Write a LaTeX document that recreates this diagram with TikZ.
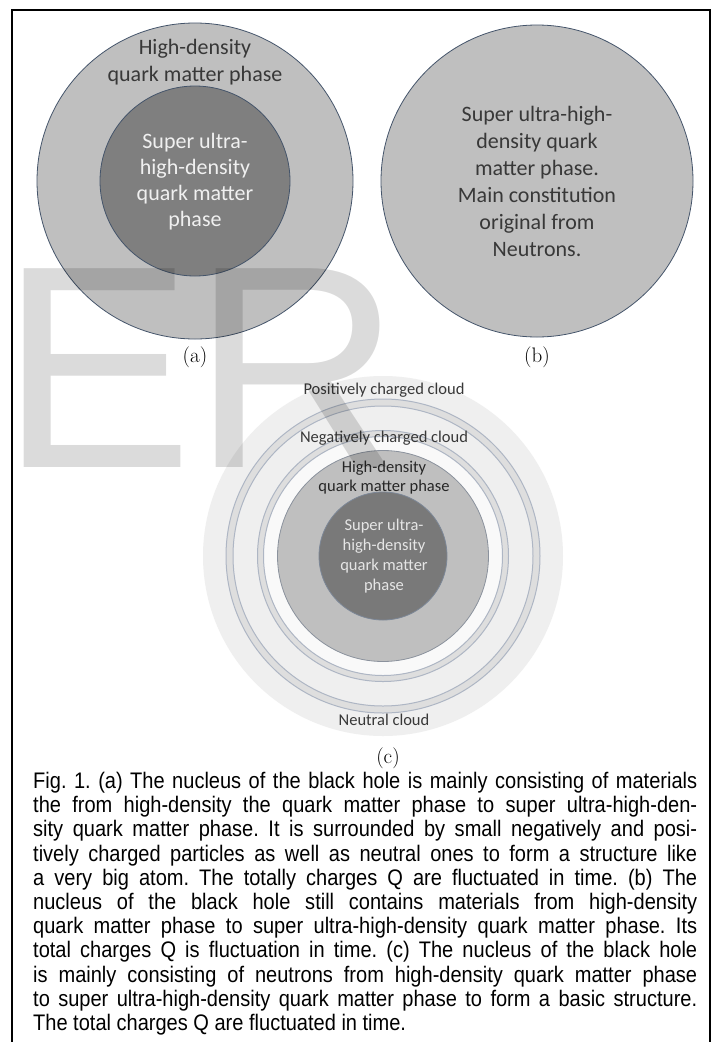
\documentclass[tikz,border=0pt]{standalone}
\usepackage{fontspec}
\newfontfamily\labelfont{Carlito}
\newfontfamily\capfont[FakeStretch=0.89]{Liberation Sans}
\newfontfamily\wmfont{Liberation Sans}

\definecolor{rimblue}{HTML}{44546A}
\definecolor{phasegray}{HTML}{BFBFBF}
\definecolor{coregray}{HTML}{7F7F7F}
\definecolor{cloudgray}{HTML}{EFEFEF}
\definecolor{ringgray}{HTML}{DEDEDE}
\definecolor{ringline}{HTML}{AEB6C4}
\definecolor{inktext}{HTML}{383838}

\tikzset{
  phase/.style={draw=rimblue, line width=0.8pt, fill=phasegray},
  core/.style={draw=rimblue, line width=0.8pt, fill=coregray},
  ring/.style={draw=ringline, line width=1pt},
  darklabel/.style={font=\labelfont\fontsize{22}{27}\selectfont, text=inktext, align=center, inner sep=0pt},
  lightlabel/.style={font=\labelfont\fontsize{22}{26}\selectfont, text=white!94!black, align=center, inner sep=0pt},
  cloudlabel/.style={font=\labelfont\fontsize{16.5}{20}\selectfont, text=inktext, align=center, inner sep=0pt},
  tag/.style={font=\fontsize{21}{24}\selectfont, inner sep=0pt}
}

\begin{document}
\begin{tikzpicture}[x=1pt,y=-1pt]
%%%%% START %%%%%
\fill[white] (0,0) rectangle (718,1042);
\useasboundingbox (0,0) rectangle (718,1042);

\draw[line width=1.6pt] (12,1042) |- (710,10) -- (710,1042);

% (a)
\draw[phase] (195,181) circle[radius=158pt];
\draw[core] (195,181) circle[radius=95pt];
\node[darklabel] (highA) at (195,62) {High-density\\quark matter phase};
\node[lightlabel] (superA) at (195,182) {Super ultra-\\high-density\\quark matter\\phase};
\node[tag] (tagA) at (195,357) {(a)};

% (b)
\draw[phase] (537,181) circle[radius=156pt];
\node[darklabel] (superB) at (537,181)
  {Super ultra-high-\\density quark\\matter phase.\\Main constitution\\original from\\Neutrons.};
\node[tag] (tagB) at (537,357) {(b)};

% (c)
\coordinate (cc) at (383,556);
\fill[cloudgray] (cc) circle[radius=180pt];
\draw[ring, fill=ringgray, even odd rule] (cc) circle[radius=157pt] circle[radius=150pt];
\fill[white!60!cloudgray] (cc) circle[radius=119.5pt];
\draw[ring, fill=ringgray, even odd rule] (cc) circle[radius=125.5pt] circle[radius=119.5pt];
\draw[draw=ringline!80!black, line width=0.8pt, fill=phasegray] (cc) circle[radius=105.5pt];
\draw[draw=rimblue!70, line width=0.8pt, fill=coregray!95!black] (cc) circle[radius=64pt];

\node[cloudlabel] (posC) at (384,390) {Positively charged cloud};
\node[cloudlabel] (negC) at (384,438) {Negatively charged cloud};
\node[cloudlabel, text=black!85, font=\labelfont\fontsize{16.5}{19}\selectfont] (highC) at (384,478)
  {High-density\\quark matter phase};
\node[cloudlabel, text=white!90!black] (superC) at (384,556) {Super ultra-\\high-density\\quark matter\\phase};
\node[cloudlabel] (neutC) at (384,720) {Neutral cloud};
\node[tag] (tagC) at (388,758) {(c)};

% caption
\node[anchor=north west, inner sep=0pt, text width=664pt, align=justify,
      font=\capfont\fontsize{22.5}{24.2}\selectfont\frenchspacing] (caption) at (33,772)
{Fig. 1. (a) The nucleus of the black hole is mainly consisting of materials\linebreak
the from high-density the quark matter phase to super ultra-high-den-\linebreak
sity quark matter phase. It is surrounded by small negatively and posi-\linebreak
tively charged particles as well as neutral ones to form a structure like\linebreak
a very big atom. The totally charges Q are fluctuated in time. (b) The\linebreak
nucleus of the black hole still contains materials from high-density\linebreak
quark matter phase to super ultra-high-density quark matter phase. Its\linebreak
total charges Q is fluctuation in time. (c) The nucleus of the black hole\linebreak
is mainly consisting of neutrons from high-density quark matter phase\linebreak
to super ultra-high-density quark matter phase to form a basic structure.\linebreak
The total charges Q are fluctuated in time.};

% watermark
\node[anchor=base west, inner sep=0pt, text=black, text opacity=0.14,
      font=\wmfont\fontsize{289}{289}\selectfont] (mark) at (0,467) {ER};
%%%%% END %%%%%
\end{tikzpicture}
\end{document}
